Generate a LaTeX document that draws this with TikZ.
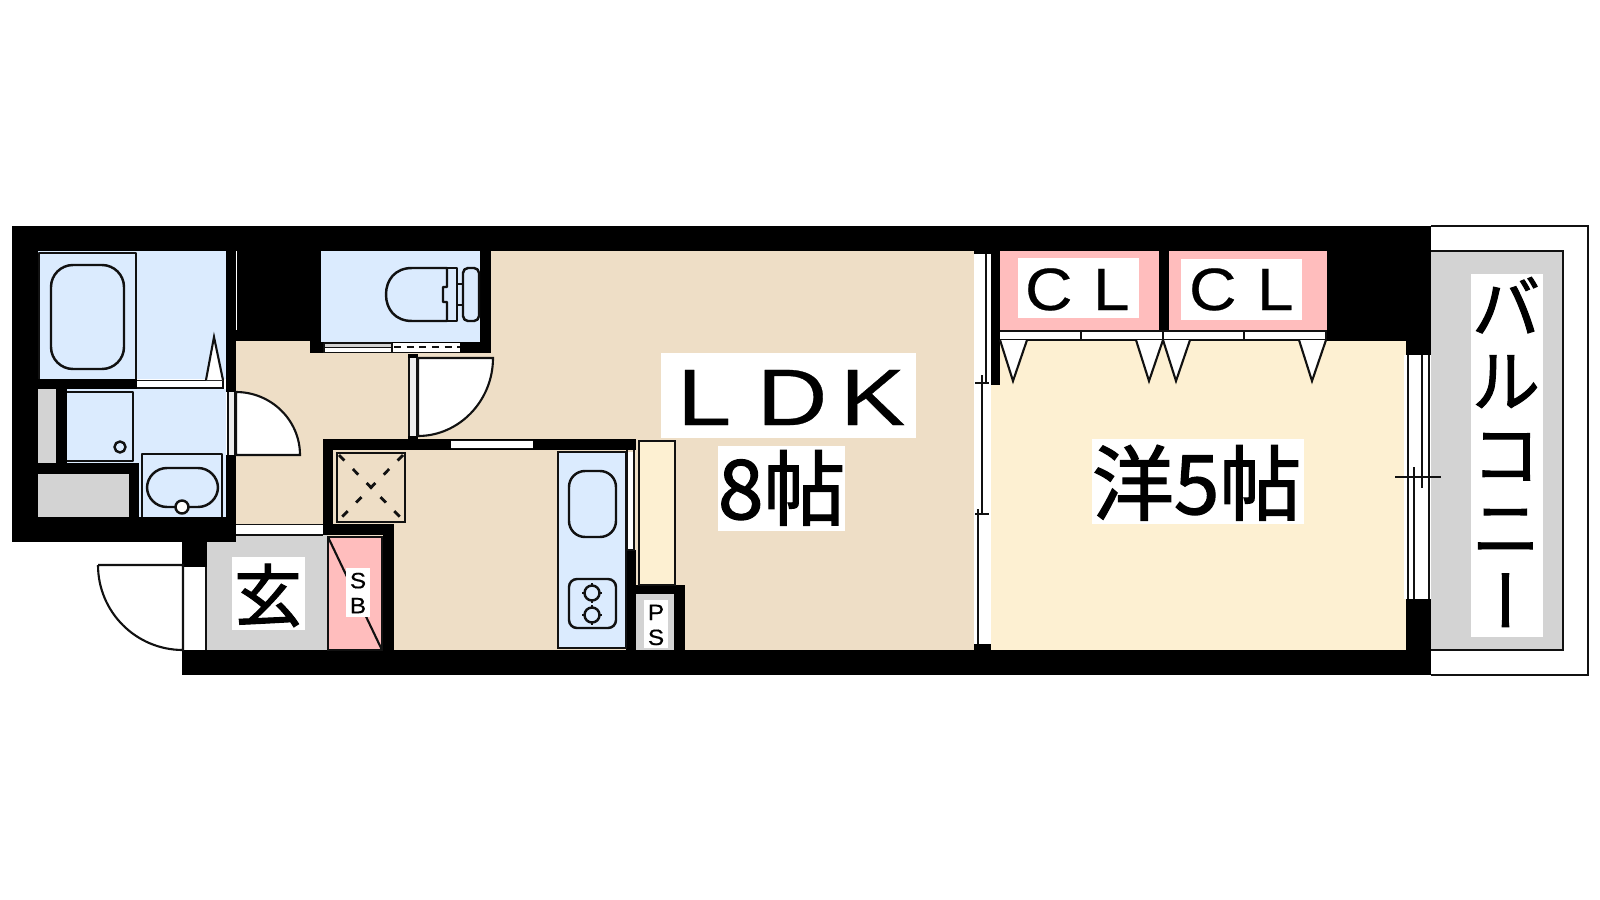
\documentclass[tikz,border=0pt]{standalone}
\usepackage{fontspec}
\setmainfont{Liberation Sans}
\newfontfamily\jp[FakeBold=1.6]{Noto Sans CJK JP}
\newfontfamily\jpv[RawFeature={+vert},FakeBold=1.6]{Noto Sans CJK JP}
\newfontfamily\lat[FakeStretch=1.22,FakeBold=0.4]{Liberation Sans}
\newfontfamily\latb[FakeStretch=1.1,FakeBold=0.4]{Liberation Sans}
\definecolor{ldk}{HTML}{EEDEC6}
\definecolor{yo}{HTML}{FDF0D2}
\definecolor{wet}{HTML}{DBEBFE}
\definecolor{pk}{HTML}{FFBDBD}
\definecolor{gy}{HTML}{D3D3D3}
\definecolor{ink}{HTML}{111111}
\tikzset{
  wall/.style={fill=black},
  ln/.style={draw=ink,line width=0.6pt},
  lnt/.style={draw=ink,line width=0.45pt},
  ol/.style={draw=ink,line width=0.7pt,line join=round},
  leaf/.style={draw=ink,line width=0.6pt,fill=white},
  tag/.style={fill=white},
  txt/.style={inner sep=0pt,outer sep=0pt,text=black},
}
\newcommand{\RR}[5]{\path[#1] (#2,#3) rectangle (#4,#5);}
\begin{document}
\begin{tikzpicture}[x=0.01cm,y=-0.01cm]
\useasboundingbox (0,0) rectangle (1600,900);
\fill[white] (0,0) rectangle (1600,900);
% floors
\RR{fill=ldk}{236}{251}{974}{650}
\RR{fill=yo}{991}{330}{1406}{650}
\RR{fill=wet}{38}{251}{226}{379}
\RR{fill=wet}{67}{389}{226}{463}
\RR{fill=wet}{139}{454}{226}{517}
\RR{fill=wet}{321}{251}{480}{342}
\RR{fill=gy}{38}{389}{56}{463}
\RR{fill=gy}{38}{474}{129}{517}
\RR{fill=gy}{207}{535}{328}{650}
\RR{fill=pk}{1000}{251}{1159}{330}
\RR{fill=pk}{1169}{251}{1327}{330}
% balcony
\draw[draw=ink,line width=0.5pt] (1431,226) -- (1588,226) -- (1588,675) -- (1431,675);
\RR{fill=gy}{1431}{251}{1563}{650}
\draw[ln] (1431,251) -- (1563,251) -- (1563,650) -- (1431,650);
% walls
\RR{wall}{12}{226}{1431}{251}
\RR{wall}{12}{226}{38}{542}
\RR{wall}{12}{517}{236}{542}
\RR{wall}{226}{226}{236}{392}
\RR{wall}{226}{455}{236}{542}
\RR{wall}{236}{226}{321}{341}
\RR{wall}{310}{341}{321}{353}
\RR{wall}{310}{342}{491}{353}
\RR{wall}{480}{226}{491}{353}
\RR{wall}{38}{379}{137}{389}
\RR{wall}{56}{379}{67}{474}
\RR{wall}{38}{463}{139}{474}
\RR{wall}{129}{463}{139}{517}
\RR{wall}{323}{439}{636}{450}
\RR{wall}{323}{439}{333}{535}
\RR{wall}{323}{524}{394}{535}
\RR{wall}{383}{524}{394}{650}
\RR{wall}{182}{650}{1431}{675}
\RR{wall}{182}{542}{207}{567}
\RR{wall}{626}{550}{636}{650}
\RR{wall}{626}{585}{685}{594}
\RR{wall}{674}{585}{685}{650}
\RR{wall}{974}{226}{1000}{254}
\RR{wall}{991}{226}{1000}{385}
\RR{wall}{974}{644}{991}{650}
\RR{wall}{1159}{226}{1169}{330}
\RR{wall}{1327}{226}{1431}{341}
\RR{wall}{1406}{226}{1431}{355}
\RR{wall}{1406}{599}{1431}{650}
\RR{wall}{408}{354}{418}{358}
\RR{wall}{408}{436}{418}{439}
\RR{fill=gy}{636}{594}{674}{650}
\RR{fill=white}{236}{251}{236.8}{330}
% bath
\draw[ol] (39,379) -- (39,253) -- (136,253) -- (136,379);
\draw[ol,rounded corners=2.2mm] (51,265) rectangle (124,369);
\RR{fill=white}{137}{381}{223}{388}
\draw[lnt] (137,380.5) -- (223,380.5) -- (223,388) -- (137,388);
\draw[leaf,line join=miter] (206,380) -- (214,337) -- (223,380);
% washer and sink
\draw[ol] (67,392) -- (133,392) -- (133,461) -- (67,461);
\draw[ol,fill=wet] (120,447) circle (0.055cm);
\draw[ol] (142,517) -- (142,454) -- (222,454) -- (222,517);
\draw[ol,rounded corners=2mm] (147,468) rectangle (218,507);
\draw[ol,fill=white] (182,507) circle (0.065cm);
% bathroom door
\RR{fill=gy!40}{228}{392}{236}{455}
\draw[lnt] (228,392) -- (228,455) (235,392) -- (235,455);
\draw[leaf] (236,392) .. controls (271,392) and (300,420) .. (300,455) -- (236,455) -- cycle;
% toilet
\draw[ol] (447,268) -- (412,268) .. controls (395,268) and (386,280) .. (386,294.5) .. controls (386,309) and (395,321) .. (412,321) -- (447,321) -- (447,302) -- (443,302) -- (443,287) -- (447,287) -- cycle;
\draw[ol] (447,268) -- (457,268) -- (457,321) -- (447,321);
\draw[ol,rounded corners=0.5mm] (463,268) rectangle (479,321);
\draw[ol] (457,284) -- (463,284) (457,305) -- (463,305);
% toilet door
\RR{fill=white}{324}{343}{460}{353}
\RR{fill=gy}{325}{344}{392}{347}
\draw[lnt] (324,343) -- (392,343) (324,347.5) -- (392,347.5) (324,352.5) -- (460,352.5) (392,343) -- (392,353) (324,343) -- (324,353);
\draw[ln,dash pattern=on 2pt off 1.6pt] (394,347) -- (460,347);
% LDK door
\RR{fill=gy!40}{408}{358}{418}{436}
\draw[lnt] (409,358) -- (409,436) (417,358) -- (417,436);
\draw[leaf] (418,358) -- (493,358) .. controls (493,401) and (459,436) .. (418,436) -- cycle;
% hall threshold
\RR{fill=white}{236}{525}{323}{535}
\draw[lnt] (236,524.5) -- (323,524.5) (236,535) -- (323,535);
\RR{fill=white}{451}{440.5}{533}{448.5}
\draw[lnt] (451,440.5) -- (533,440.5) (451,448.5) -- (533,448.5);
% storage square
\draw[ln,line width=0.8pt] (337,453) rectangle (405,522);
\draw[ln,line width=0.8pt,dash pattern=on 2.2pt off 3.4pt] (339,455) -- (403,520) (403,455) -- (339,520);
% entrance
\RR{fill=white}{183}{567}{206}{650}
\draw[lnt] (183,567) -- (183,650) (206,567) -- (206,650);
\draw[leaf] (98,565) -- (183,565) -- (183,650) .. controls (136,650) and (98,612) .. (98,565);
\RR{fill=pk}{328}{537}{382}{650}
\draw[ln] (328,537) rectangle (382,650);
\draw[ln] (328,537) -- (382,650);
% kitchen
\draw[ln,fill=wet] (558,452) rectangle (626,648);
\draw[ol,rounded corners=1.6mm] (569,471) rectangle (616,537);
\draw[ol,rounded corners=0.8mm] (569,579) rectangle (616,628);
\foreach \bx/\by in {592/593,592/615}{
  \draw[ol] (\bx,\by) circle (0.075cm);
  \draw[ol] (\bx,\by-10) -- (\bx,\by-7) (\bx,\by+7) -- (\bx,\by+10) (\bx-10,\by) -- (\bx-7,\by) (\bx+7,\by) -- (\bx+10,\by);
}
\RR{fill=white}{627}{452}{634}{550}
\draw[lnt] (627,450) -- (627,550) -- (634,550) -- (634,450);
\draw[ln,fill=yo] (639,441) rectangle (675,585);
% sliding door LDK - bedroom
\RR{fill=white}{974}{254}{991}{644}
\draw[ln] (986,254) -- (986,383);
\draw[ln] (982,375) -- (982,514);
\draw[ln] (978,509) -- (978,644);
\draw[ln] (975,383) -- (989,383) (975,514) -- (989,514);
\RR{wall}{991}{226}{1000}{385}
% closet doors
\RR{fill=white}{1000}{331}{1327}{340}
\draw[lnt] (1000,331) -- (1327,331) (1000,340) -- (1327,340) (1081,331) -- (1081,340) (1163,331) -- (1163,340) (1244,331) -- (1244,340) (1326,331) -- (1326,340);
\foreach \xa/\xm/\xb in {1000/1013/1027,1136/1149/1163,1163/1176/1190,1299/1312/1326}{
  \draw[leaf,line join=miter] (\xa,340) -- (\xm,381) -- (\xb,340);
}
% balcony window
\RR{fill=white}{1404}{355}{1431}{599}
\draw[lnt] (1408,355) -- (1408,599) (1429,355) -- (1429,599);
\draw[lnt] (1422,355) -- (1422,488) (1414,467) -- (1414,599);
\draw[lnt] (1395,477) -- (1441,477);
% labels
\RR{tag}{1471}{274}{1543}{637}
\node[txt,align=center,font=\jp\fontsize{19.3}{20.9}\selectfont] (balcony) at (1506,452) {バ\\ル\\コ\\ニ\\{\jpv ー}};
\RR{tag}{1018}{258}{1139}{318}
\RR{tag}{1181}{259}{1302}{320}
\node[txt,anchor=base west,font=\latb\fontsize{17}{17}\selectfont] (cl1) at (1025,310) {C\kern5.8pt L};
\node[txt,anchor=base west,font=\latb\fontsize{17}{17}\selectfont] (cl2) at (1189,310) {C\kern5.8pt L};
\RR{tag}{661}{353}{916}{438}
\node[txt,anchor=base west,font=\lat\fontsize{22.76}{22.76}\selectfont] (ldk) at (677,425) {L\kern7.3pt D\kern3.6pt K};
\RR{tag}{718}{446}{845}{531}
\node[txt,anchor=base west,font=\jp\fontsize{23.3}{23.3}\selectfont] (ldksize) at (718,519) {8帖};
\RR{tag}{1092}{439}{1304}{524}
\node[txt,anchor=base west,font=\jp\fontsize{23.3}{23.3}\selectfont] (yosize) at (1092,514) {洋5帖};
\RR{tag}{232}{557}{305}{630}
\node[txt,anchor=base,font=\jp\fontsize{19.3}{19.3}\selectfont] (genkan) at (268,621) {玄};
\RR{tag}{346}{568}{370}{617}
\node[txt,align=center,font=\latb\fontsize{6.3}{7.1}\selectfont] (sb) at (358,593) {S\\B};
\RR{tag}{644}{600}{668}{648}
\node[txt,align=center,font=\latb\fontsize{6.3}{7.1}\selectfont] (ps) at (656,625) {P\\S};
\end{tikzpicture}
\end{document}
